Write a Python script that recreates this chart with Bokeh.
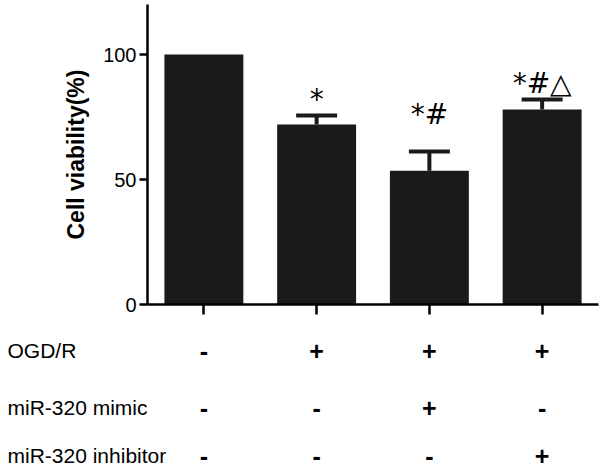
from bokeh.plotting import figure
from bokeh.models import (ColumnDataSource, LabelSet, Whisker, TeeHead, FixedTicker,
                          Range1d, LinearAxis)
from bokeh.core.properties import value
from bokeh.embed import file_html
from bokeh.resources import INLINE

# ---- data ----
groups = ["Control", "OGD/R", "OGD/R + miR-320 mimic", "OGD/R + miR-320 inhibitor"]
viability = [100.0, 72.0, 53.5, 78.0]
sem = [0.0, 3.6, 7.7, 4.0]
marks = ["", "*", "*#", "*#\u25b3"]
y_ticks = [0, 50, 100]
row_names = ["OGD/R", "miR-320 mimic", "miR-320 inhibitor"]
ogd = ["-", "+", "+", "+"]
mimic = ["-", "-", "+", "-"]
inhibitor = ["-", "-", "-", "+"]

# ---- layout / style ----
W, H = 600, 470
AX_LEFT, AX_RIGHT, AX_TOP, AX_BOTTOM = 147, 598, 4, 304   # axes box in px
Y_MAX = 120
X_LO, X_HI = -0.5, len(groups) - 0.5
FONT = "Liberation Sans"
BAR = "#1a1a1a"
mark_lift = [0, 7, 28, 7]          # px gap between error cap and mark baseline
row_drop = [46, 103, 151]          # px below the x axis for condition rows
row_name_x = 7                     # px from left edge

xppu = (AX_RIGHT - AX_LEFT) / (X_HI - X_LO)
yppu = (AX_BOTTOM - AX_TOP) / Y_MAX
x_range = Range1d(X_LO - AX_LEFT / xppu, X_HI + (W - AX_RIGHT) / xppu)
y_range = Range1d(-(H - AX_BOTTOM) / yppu, Y_MAX + AX_TOP / yppu)

xs = list(range(len(groups)))
upper = [v + e for v, e in zip(viability, sem)]

p = figure(width=W, height=H, output_backend="svg", toolbar_location=None,
           x_range=x_range, y_range=y_range,
           x_axis_location=None, y_axis_location=None,
           min_border=0)
p.outline_line_color = None
p.xgrid.visible = False
p.ygrid.visible = False
p.background_fill_color = "white"
p.border_fill_color = "white"

src = ColumnDataSource(dict(x=xs, v=viability, up=upper, mark=marks,
                            lift=mark_lift, err=sem))
p.vbar(x="x", top="v", bottom=0, width=0.7, source=src, fill_color=BAR, line_color=None)

keep = [i for i, e in enumerate(sem) if e > 0]
err_src = ColumnDataSource(dict(x=[xs[i] for i in keep],
                                lo=[viability[i] for i in keep],
                                hi=[upper[i] for i in keep]))
p.add_layout(Whisker(base="x", lower="lo", upper="hi", source=err_src,
                     line_width=4, line_color=BAR,
                     upper_head=TeeHead(size=41, line_width=4, line_color=BAR),
                     lower_head=None))

p.add_layout(LabelSet(x="x", y="up", text="mark", y_offset="lift", source=src,
                      text_align="center", text_baseline="alphabetic",
                      text_font=value("DejaVu Sans"), text_font_size="28px",
                      text_color="black"))

# y axis (fixed at the left edge of the bars' span)
ya = LinearAxis(fixed_location=X_LO, bounds=(0, Y_MAX))
ya.ticker = FixedTicker(ticks=y_ticks)
ya.minor_tick_line_color = None
ya.major_tick_in = 0
ya.major_tick_out = 8
ya.major_tick_line_width = 2.5
ya.axis_line_width = 2.5
ya.axis_line_color = "black"
ya.major_tick_line_color = "black"
ya.major_label_text_font = FONT
ya.major_label_text_font_size = "20px"
ya.major_label_text_color = "black"
ya.major_label_standoff = 3
ya.axis_label = "Cell viability(%)"
ya.axis_label_text_font = FONT
ya.axis_label_text_font_size = "23px"
ya.axis_label_text_font_style = "bold"
ya.axis_label_text_color = "black"
ya.axis_label_standoff = 11
p.add_layout(ya, "left")

# x axis at y = 0
xa = LinearAxis(fixed_location=0, bounds=(X_LO, X_HI))
xa.ticker = FixedTicker(ticks=xs)
xa.minor_tick_line_color = None
xa.major_tick_in = 0
xa.major_tick_out = 10
xa.major_tick_line_width = 2.5
xa.axis_line_width = 2.5
xa.axis_line_color = "black"
xa.major_tick_line_color = "black"
xa.major_label_text_font_size = "0px"
xa.major_label_text_color = None
p.add_layout(xa, "below")

# condition table under the chart
rows = [ogd, mimic, inhibitor]
tx, ty, tt, toff = [], [], [], []
for r, signs in enumerate(rows):
    for x, s in zip(xs, signs):
        tx.append(x); ty.append(0); tt.append(s); toff.append(-row_drop[r])
p.add_layout(LabelSet(x="x", y="y", text="t", y_offset="o",
                      source=ColumnDataSource(dict(x=tx, y=ty, t=tt, o=toff)),
                      text_align="center", text_baseline="middle",
                      text_font=value(FONT), text_font_size="25px",
                      text_font_style="bold", text_color="black"))

n = len(row_names)
p.add_layout(LabelSet(x="x", y="y", text="t", y_offset="o", x_offset=row_name_x - AX_LEFT,
                      source=ColumnDataSource(dict(x=[X_LO] * n, y=[0] * n,
                                                   t=row_names, o=[-d for d in row_drop])),
                      text_align="left", text_baseline="middle",
                      text_font=value(FONT), text_font_size="21px", text_color="black"))

open("out.html", "w").write(file_html(p, INLINE))
